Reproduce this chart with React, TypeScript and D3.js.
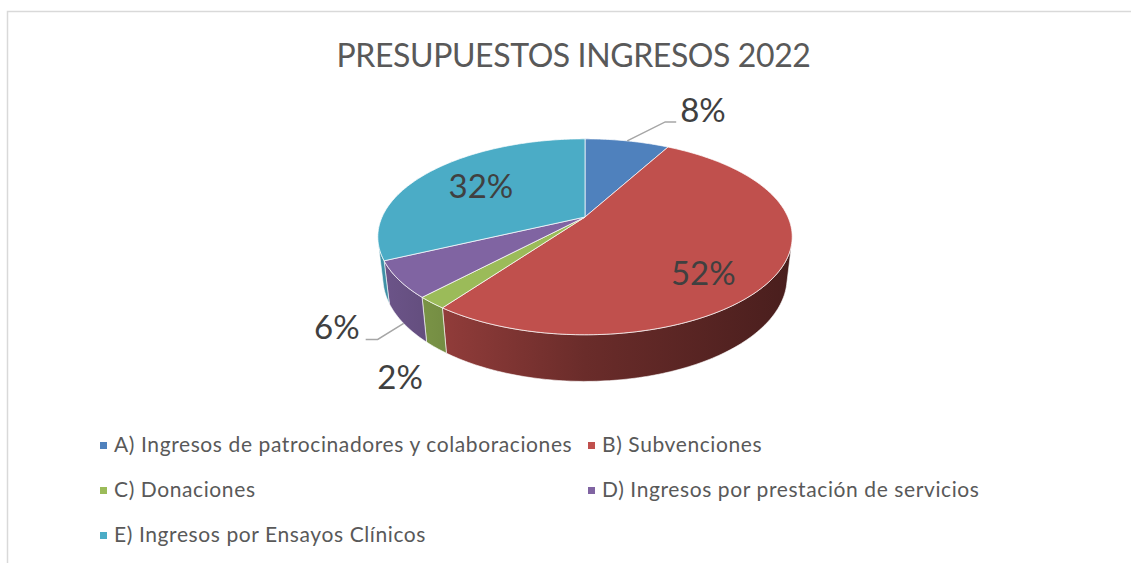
import React from "react";
import * as d3 from "d3";

const title = "PRESUPUESTOS INGRESOS 2022";
const categories = [
  "A) Ingresos de patrocinadores y colaboraciones",
  "B) Subvenciones",
  "C) Donaciones",
  "D) Ingresos por prestación de servicios",
  "E) Ingresos por Ensayos Clínicos",
];
const values = [8, 52, 2, 6, 32];
const colors = ["#4F81BD", "#C0504D", "#9BBB59", "#8064A2", "#4BACC6"];

const W = 1131;
const H = 563;

// 3D projection parameters
const CX = 585;
const CY = 217;
const DIST = 4.386;
const FOC = 890;
const SIN_A = 0.463;
const COS_A = Math.sqrt(1 - SIN_A * SIN_A);
const THICK = 0.229;

function project(x: number, y: number, z: number): [number, number] {
  const yp = y * COS_A + z * SIN_A;
  const zp = -y * SIN_A + z * COS_A;
  return [CX + (FOC * x) / (DIST + zp), CY - (FOC * yp) / (DIST + zp)];
}
function rim(theta: number, r = 1, h = 0): [number, number] {
  return project(r * Math.sin(theta), h, r * Math.cos(theta));
}

const visLimit = Math.acos(-1 / (DIST * COS_A)); // silhouette angle
const visStart = visLimit;
const visEnd = 2 * Math.PI - visLimit;

function samples(a0: number, a1: number): number[] {
  const n = Math.max(2, Math.ceil(((a1 - a0) * 180) / Math.PI / 1));
  return d3.range(n + 1).map((i) => a0 + ((a1 - a0) * i) / n);
}

const fmt = (p: number) => `${Math.round(p)}%`;

export default function App() {
  const total = d3.sum(values);
  const arcs = d3
    .pie<number>()
    .sort(null)
    .startAngle(0)
    .endAngle(2 * Math.PI)(values);

  const leftX = rim(visEnd)[0];
  const rightX = rim(visStart)[0];

  const line = d3.line<[number, number]>();

  const sides = arcs.map((a, i) => {
    const a0 = Math.max(a.startAngle, visStart);
    const a1 = Math.min(a.endAngle, visEnd);
    if (a1 <= a0) return null;
    const s = samples(a0, a1);
    const pts: [number, number][] = [
      ...s.map((t) => rim(t, 1, 0)),
      ...s.slice().reverse().map((t) => rim(t, 1, -THICK)),
    ];
    return (
      <path
        key={"s" + i}
        d={line(pts)! + "Z"}
        fill={`url(#side${i})`}
        stroke="#ffffff"
        strokeOpacity={0.75}
        strokeWidth={0.8}
        strokeLinejoin="round"
      />
    );
  });

  const tops = arcs.map((a, i) => {
    const s = samples(a.startAngle, a.endAngle);
    const pts: [number, number][] = [project(0, 0, 0), ...s.map((t) => rim(t))];
    return (
      <path
        key={"t" + i}
        d={line(pts)! + "Z"}
        fill={colors[i]}
        stroke="#ffffff"
        strokeOpacity={0.8}
        strokeWidth={0.9}
        strokeLinejoin="round"
      />
    );
  });

  // label offsets for outside labels (index -> config)
  const outside: Record<number, { bottom: boolean; elbow?: [number, number]; end?: number; text: [number, number]; anchor: string }> = {
    0: { bottom: false, elbow: [38, -19], end: 11, text: [4, 0], anchor: "start" },
    3: { bottom: true, elbow: [-26, 16], end: -12, text: [-6, 0], anchor: "end" },
    2: { bottom: true, text: [-36, 41], anchor: "middle" },
  };

  const labelFont = "Lato, 'Open Sans', sans-serif";

  const labels = arcs.map((a, i) => {
    const mid = (a.startAngle + a.endAngle) / 2;
    const pct = fmt((values[i] / total) * 100);
    const cfg = outside[i];
    if (!cfg) {
      const front = Math.cos(mid) < 0;
      const [x, y] = rim(mid, 0.65, front ? -THICK / 2 : 0);
      return (
        <text
          key={"l" + i}
          x={x}
          y={y}
          dy="0.36em"
          textAnchor="middle"
          fontSize={33}
          fill="#404040"
          fontFamily={labelFont}
        >
          {pct}
        </text>
      );
    }
    const anchorPt = rim(mid, 1, cfg.bottom ? -THICK : 0);
    const els: React.ReactNode[] = [];
    let tx: number, ty: number;
    if (cfg.elbow) {
      const elbow: [number, number] = [anchorPt[0] + cfg.elbow[0], anchorPt[1] + cfg.elbow[1]];
      const end: [number, number] = [elbow[0] + (cfg.end || 0), elbow[1]];
      els.push(
        <path
          key={"ll" + i}
          d={line([anchorPt, elbow, end])!}
          fill="none"
          stroke="#a6a6a6"
          strokeWidth={1.5}
        />
      );
      tx = end[0] + cfg.text[0];
      ty = end[1] + cfg.text[1];
    } else {
      tx = anchorPt[0] + cfg.text[0];
      ty = anchorPt[1] + cfg.text[1];
    }
    els.push(
      <text
        key={"lt" + i}
        x={tx}
        y={ty}
        textAnchor={cfg.anchor as any}
        fontSize={33}
        fill="#404040"
        fontFamily={labelFont}
      >
        {pct}
      </text>
    );
    return <g key={"lg" + i}>{els}</g>;
  });

  // legend layout
  const legendCols = [100, 588];
  const legendRows = [452, 497, 542];
  const legendPos = [
    [0, 0],
    [1, 0],
    [0, 1],
    [1, 1],
    [0, 2],
  ];

  return (
    <svg
      width={W}
      height={H}
      style={{ position: "absolute", left: 0, top: 0, display: "block", background: "#ffffff" }}
    >
      <defs>
        {colors.map((c, i) => {
          const mix = d3.interpolateRgb(c, "#000000");
          return (
            <linearGradient key={i} id={`side${i}`} gradientUnits="userSpaceOnUse" x1={leftX} x2={rightX} y1={0} y2={0}>
              <stop offset="0" stopColor={mix(0.15)} />
              <stop offset="0.2" stopColor={mix(0.27)} />
              <stop offset="0.5" stopColor={mix(0.45)} />
              <stop offset="1" stopColor={mix(0.62)} />
            </linearGradient>
          );
        })}
      </defs>
      <rect x={7.5} y={11.5} width={W + 20} height={H + 20} fill="#ffffff" stroke="#d9d9d9" strokeWidth={1.5} />
      <text
        x={573.5}
        y={67}
        textAnchor="middle"
        fontSize={32}
        letterSpacing={-0.4}
        fill="#595959"
        fontFamily={labelFont}
      >
        {title}
      </text>
      {sides}
      {tops}
      {labels}
      {categories.map((name, i) => {
        const [c, r] = legendPos[i];
        const x = legendCols[c];
        const y = legendRows[r];
        return (
          <g key={"lg" + i}>
            <rect x={x} y={y - 10} width={7} height={7} fill={colors[i]} />
            <text x={x + 14} y={y} fontSize={21} letterSpacing={0.6} fill="#595959" fontFamily={labelFont}>
              {name}
            </text>
          </g>
        );
      })}
    </svg>
  );
}
